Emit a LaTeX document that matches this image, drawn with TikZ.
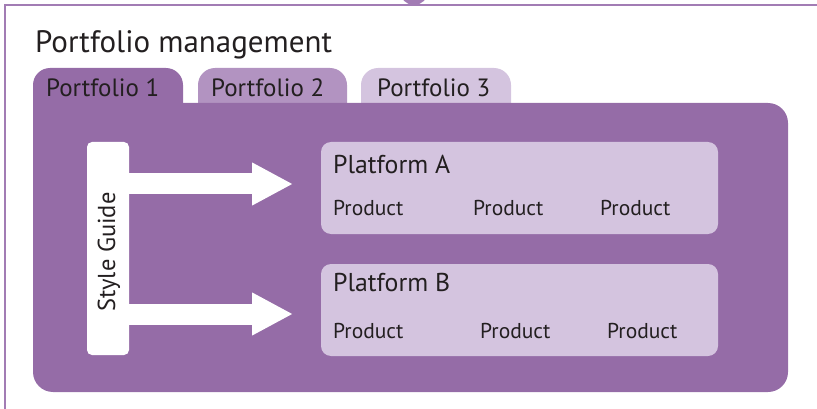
\documentclass[tikz,border=0pt]{standalone}
\usepackage{fontspec}
\setmainfont{PT Sans}
\usetikzlibrary{arrows.meta}
\definecolor{mainpurple}{HTML}{956CA7}
\definecolor{midpurple}{HTML}{B293C1}
\definecolor{lightpurple}{HTML}{D4C4DF}
\definecolor{framepurple}{HTML}{A27CB4}
\definecolor{textdark}{HTML}{231F20}
\newcommand{\fs}[1]{\fontsize{#1}{#1}\selectfont}
\begin{document}
\begin{tikzpicture}[x=1pt,y=-1pt,
  txt/.style={anchor=base west,inner sep=0pt,text=textdark},
  titletxt/.style={txt,font=\fs{31}},
  tabtxt/.style={txt,font=\fs{25}},
  plattxt/.style={txt,font=\fs{25.8}},
  prodtxt/.style={txt,font=\fs{21.5}},
  platbox/.style={fill=lightpurple,rounded corners=10pt},
  bigarrow/.style={draw=white,line width=21pt,-{Triangle[length=41pt,width=40pt]}}]
\useasboundingbox (0,0) rectangle (817,409);
\begin{scope}
\clip (0,0) rectangle (817,409);
% outer frame (partly cropped)
\fill[framepurple] (414,-9) circle (14);
\draw[framepurple,line width=2pt] (4.5,409) -- (4.5,5) -- (817,5);
\end{scope}
% title
\node[titletxt] (title) at (35,53) {Portfolio management};
% tabs 2 and 3
\fill[midpurple,rounded corners=17pt] (198,68) rectangle (347,125);
\fill[lightpurple,rounded corners=17pt] (361,68) rectangle (511,125);
% tab 1 and body
\fill[mainpurple,rounded corners=17pt] (33,68) rectangle (183,125);
\fill[mainpurple,rounded corners=20pt] (33,103) rectangle (788,392);
\fill[mainpurple] (33,100) rectangle (70,140);
\node[tabtxt] (t1) at (46,97) {Portfolio 1};
\node[tabtxt] (t2) at (211,97) {Portfolio 2};
\node[tabtxt] (t3) at (377,97) {Portfolio 3};
% platforms
\fill[platbox] (321,142) rectangle (718,234);
\fill[platbox] (321,264) rectangle (718,356);
\node[plattxt] (pa) at (333,174) {Platform A};
\node[plattxt] (pb) at (333,291) {Platform B};
\node[prodtxt] (pa1) at (333,215) {Product};
\node[prodtxt] (pa2) at (473,215) {Product};
\node[prodtxt] (pa3) at (600,215) {Product};
\node[prodtxt] (pb1) at (333,338) {Product};
\node[prodtxt] (pb2) at (480,338) {Product};
\node[prodtxt] (pb3) at (607,338) {Product};
% style guide
\node[fill=white,rounded corners=5pt,minimum width=42pt,minimum height=213pt,inner sep=0pt] (sg) at (108,248.5) {};
\node[txt,font=\fs{24.5},rotate=90] (sgt) at (115,312) {Style Guide};
% arrows
\coordinate (a1s) at (120,184);
\coordinate (a1e) at (293,184);
\coordinate (a2s) at (120,314);
\coordinate (a2e) at (293,314);
\draw[bigarrow] (a1s) -- (a1e);
\draw[bigarrow] (a2s) -- (a2e);
\end{tikzpicture}
\end{document}
